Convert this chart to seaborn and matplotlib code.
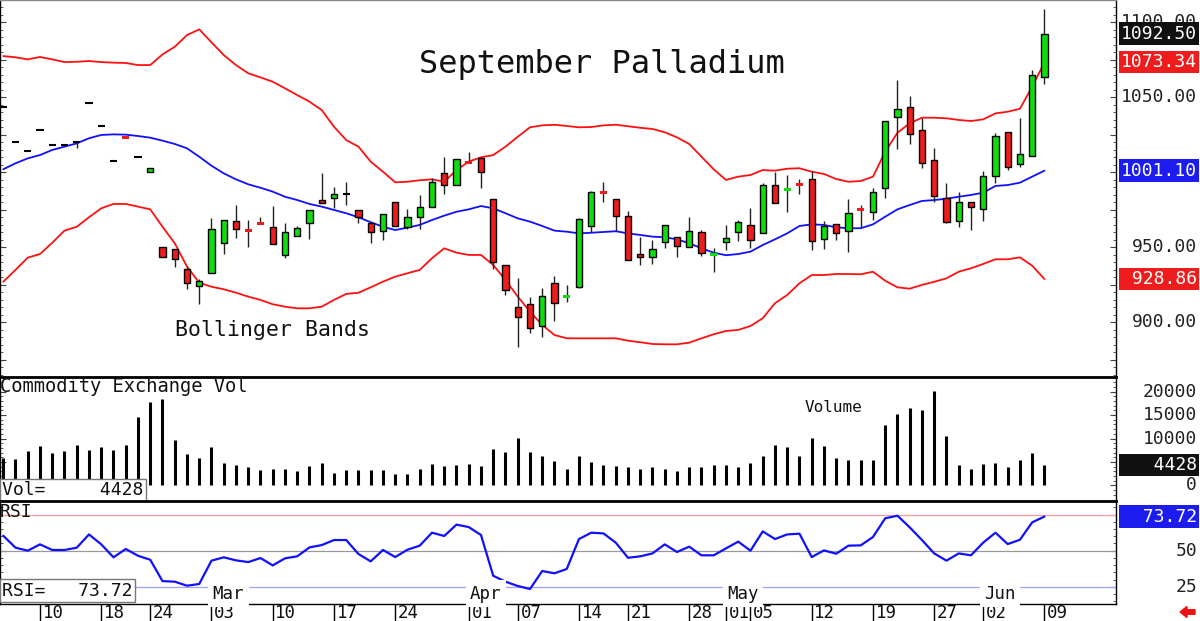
import numpy as np
import pandas as pd
import matplotlib
matplotlib.use('Agg')
import matplotlib.pyplot as plt
import matplotlib.transforms as mtransforms
from matplotlib.patches import FancyArrow
import seaborn as sns

sns.set_style('white')
plt.rcParams['font.family'] = ['DejaVu Sans Mono', 'DejaVu Sans']

# trading days Feb 05 - Jun 09 2025, exchange holidays taken out
dates = pd.bdate_range('2025-02-05', '2025-06-09')
dates = dates[~dates.isin(pd.to_datetime(['2025-02-17', '2025-04-18', '2025-05-26']))]

opens = [1043.5, 1020.0, 1014.4, 1028.2, 1018.2, 1018.2, 1020.4, 1046.0, 1030.9, 1007.5,
         1024.0, 1010.4, 1000.5, 950.0, 948.7, 935.3, 924.4, 932.7, 953.0, 967.7,
         961.4, 965.9, 963.7, 944.9, 957.5, 966.0, 981.5, 982.9, 985.3, 974.9,
         966.4, 960.9, 980.4, 963.8, 970.0, 977.1, 999.3, 991.5, 1007.0, 1009.7,
         982.0, 938.2, 910.0, 912.2, 897.7, 926.4, 916.5, 923.7, 964.4, 987.5,
         982.4, 970.9, 945.5, 943.3, 953.7, 957.0, 950.0, 960.0, 945.2, 953.7,
         960.0, 964.9, 959.3, 991.5, 987.7, 992.2, 995.5, 955.3, 965.3, 960.9,
         975.5, 973.3, 989.7, 1036.7, 1043.3, 1028.2, 1008.2, 983.1, 967.7, 980.0,
         975.3, 997.7, 1027.1, 1005.3, 1010.9, 1063.3]
highs = [1043.5, 1020.0, 1014.4, 1028.2, 1018.2, 1018.2, 1020.4, 1046.0, 1030.9, 1007.5,
         1024.0, 1010.4, 1002.8, 950.0, 948.7, 937.0, 928.7, 969.3, 968.2, 978.2,
         968.2, 970.4, 977.5, 966.4, 964.0, 974.9, 999.3, 990.4, 993.7, 974.9,
         966.4, 972.5, 980.4, 975.4, 984.9, 996.4, 1010.4, 1008.7, 1013.7, 1009.7,
         982.0, 938.2, 929.3, 917.0, 922.7, 930.9, 924.9, 969.5, 987.7, 993.3,
         982.4, 974.2, 957.0, 954.9, 964.9, 957.0, 970.4, 961.5, 949.3, 964.9,
         968.2, 976.0, 993.1, 1000.4, 998.2, 995.5, 1001.1, 967.5, 965.3, 982.0,
         978.2, 989.3, 1034.2, 1061.5, 1051.1, 1036.0, 1016.0, 993.1, 986.7, 980.0,
         1001.1, 1026.0, 1027.1, 1036.0, 1068.5, 1108.7]
lows = [1043.5, 1020.0, 1014.4, 1028.2, 1018.2, 1018.2, 1016.0, 1046.0, 1030.9, 1007.5,
        1022.7, 1010.4, 1000.5, 943.6, 937.0, 922.0, 912.2, 932.7, 945.3, 956.4,
        950.4, 965.3, 952.0, 943.1, 957.5, 955.3, 979.3, 976.0, 978.2, 966.4,
        953.0, 954.8, 964.4, 962.5, 962.0, 976.7, 985.3, 991.5, 1006.3, 989.7,
        935.3, 918.2, 883.7, 893.0, 890.4, 901.0, 913.7, 923.0, 960.0, 980.0,
        961.0, 941.5, 938.2, 938.9, 949.3, 943.7, 950.0, 944.2, 933.7, 948.2,
        954.4, 949.3, 959.3, 979.3, 973.4, 985.5, 948.5, 948.7, 954.8, 947.1,
        963.7, 968.2, 982.7, 1015.3, 1018.9, 1002.7, 980.0, 966.4, 963.7, 961.5,
        967.7, 992.7, 1001.5, 1003.7, 1010.9, 1058.9]
closes = [1043.5, 1020.0, 1014.4, 1028.2, 1018.2, 1018.2, 1020.4, 1046.0, 1030.9, 1007.5,
          1022.7, 1010.4, 1002.8, 943.6, 942.0, 926.0, 927.5, 962.4, 968.2, 962.4,
          960.5, 965.3, 952.0, 960.0, 962.7, 974.9, 979.3, 985.5, 985.3, 970.0,
          960.4, 972.5, 964.4, 970.5, 977.1, 993.4, 991.5, 1008.7, 1006.3, 1000.4,
          940.4, 921.5, 903.3, 896.0, 917.7, 912.7, 917.2, 968.9, 986.7, 986.0,
          970.9, 941.5, 943.3, 948.9, 964.9, 951.0, 960.9, 946.0, 945.6, 956.0,
          967.1, 954.9, 991.5, 979.3, 988.9, 991.8, 954.2, 964.2, 959.7, 972.6,
          974.7, 987.1, 1034.2, 1042.2, 1025.3, 1006.4, 984.4, 967.1, 980.4, 976.7,
          997.7, 1024.4, 1003.7, 1012.0, 1064.9, 1092.5]

upper_band = [1077.5, 1076.7, 1075.3, 1076.9, 1075.3, 1073.5, 1073.7, 1074.2, 1073.5, 1073.1,
              1072.9, 1071.5, 1071.5, 1078.6, 1083.7, 1091.5, 1095.3, 1086.7, 1078.2, 1071.5,
              1066.0, 1063.3, 1060.4, 1056.0, 1051.5, 1047.1, 1041.5, 1030.4, 1021.5, 1017.1,
              1007.1, 1000.4, 993.3, 993.7, 994.7, 995.3, 993.7, 1001.5, 1007.1, 1010.0,
              1011.5, 1017.1, 1023.7, 1030.0, 1031.3, 1031.7, 1030.9, 1030.0, 1030.2, 1031.3,
              1031.7, 1030.7, 1029.7, 1028.9, 1026.7, 1023.3, 1018.9, 1010.4, 1002.0, 994.9,
              997.1, 998.2, 1001.5, 1001.1, 1002.4, 1002.7, 1000.4, 998.9, 995.5, 993.7,
              994.2, 997.1, 1013.7, 1026.4, 1032.7, 1036.4, 1036.4, 1036.0, 1034.9, 1034.2,
              1035.3, 1039.3, 1040.4, 1042.4, 1057.1, 1073.34]
mid_band = [1002.0, 1006.0, 1009.3, 1011.5, 1014.9, 1017.1, 1019.3, 1022.7, 1024.9, 1025.3,
            1025.1, 1024.2, 1023.1, 1021.1, 1018.9, 1016.0, 1010.4, 1004.4, 999.3, 995.3,
            992.0, 989.7, 987.1, 983.7, 981.5, 978.9, 977.1, 974.9, 972.7, 970.0,
            966.7, 963.7, 961.5, 963.1, 964.9, 968.2, 971.1, 973.7, 975.3, 977.5,
            976.0, 972.7, 969.3, 967.1, 964.2, 961.1, 960.4, 959.3, 959.7, 960.2,
            960.7, 959.3, 958.2, 957.1, 956.7, 955.3, 952.7, 949.3, 946.4, 944.7,
            945.5, 947.1, 951.5, 955.3, 959.3, 964.2, 965.3, 964.9, 963.3, 962.7,
            962.7, 965.3, 970.4, 975.3, 978.2, 980.9, 981.5, 982.4, 983.7, 984.9,
            986.4, 990.9, 991.5, 993.1, 997.1, 1001.10]
lower_band = [927.0, 934.9, 943.1, 945.5, 953.0, 961.1, 963.7, 970.0, 976.0, 978.9,
              978.9, 977.1, 975.3, 963.7, 952.7, 937.1, 926.4, 923.7, 922.0, 919.7,
              917.1, 914.9, 912.0, 910.4, 909.3, 909.3, 910.4, 914.9, 918.9, 919.7,
              923.3, 927.1, 930.4, 932.7, 934.9, 942.7, 949.3, 946.4, 944.9, 944.9,
              938.2, 928.2, 917.1, 907.1, 898.2, 891.5, 889.3, 889.3, 889.3, 889.3,
              889.3, 887.7, 886.7, 885.5, 885.3, 885.3, 886.4, 889.3, 892.0, 894.2,
              894.9, 897.5, 902.7, 912.7, 918.2, 926.0, 931.5, 931.5, 932.2, 932.2,
              932.0, 933.7, 927.7, 923.3, 922.4, 924.9, 927.0, 929.3, 933.7, 936.0,
              938.9, 942.0, 942.0, 943.3, 937.7, 928.86]

volume = [5885, 5743, 7445, 8366, 6948, 7303, 8721, 7657, 8154, 7657,
          8579, 14605, 17725, 18505, 9642, 6806, 5814, 8224, 4750, 4325,
          3900, 3403, 3545, 3545, 3049, 4112, 4750, 2623, 3332, 3332,
          3332, 3332, 2552, 2340, 3474, 4609, 4112, 4467, 4609, 4112,
          7870, 7161, 10139, 7161, 6310, 5176, 3616, 6310, 5034, 4467,
          4112, 3900, 3616, 4041, 3474, 3190, 4041, 3900, 4325, 4467,
          3900, 4750, 6310, 8721, 8224, 6310, 10139, 8366, 5956, 5530,
          5530, 5388, 12975, 15314, 16520, 16023, 20207, 10493, 4396, 3616,
          4609, 4892, 3900, 5530, 7019, 4428]

rsi = [60.4, 52.1, 50.0, 54.4, 50.5, 50.5, 52.1, 61.3, 54.4, 45.4,
       51.2, 46.5, 43.7, 28.9, 28.5, 25.7, 26.9, 43.1, 45.4, 43.3,
       42.1, 44.9, 39.8, 44.7, 46.1, 52.3, 53.9, 57.4, 57.4, 47.7,
       42.6, 50.5, 45.6, 50.7, 53.5, 62.5, 60.2, 68.1, 66.4, 60.9,
       32.6, 28.5, 25.5, 23.4, 35.9, 34.3, 37.3, 58.1, 62.5, 62.0,
       55.6, 45.1, 46.1, 48.1, 54.4, 49.1, 52.8, 46.8, 46.8, 51.6,
       56.3, 50.0, 63.4, 58.1, 61.3, 61.8, 45.6, 50.2, 47.9, 53.5,
       53.7, 59.5, 72.5, 74.3, 66.2, 57.4, 48.1, 43.1, 48.1, 46.8,
       55.6, 62.5, 54.6, 57.6, 69.7, 73.72]

# right scale labels shown in the picture (the others sit under the value boxes)
price_labels = [900, 950, 1050, 1100]
volume_labels = [0, 10000, 15000, 20000]
rsi_labels = [25, 50]

tick_dates = ['2025-02-10', '2025-02-18', '2025-02-24', '2025-03-03', '2025-03-10',
              '2025-03-17', '2025-03-24', '2025-04-01', '2025-04-07', '2025-04-14',
              '2025-04-21', '2025-04-28', '2025-05-01', '2025-05-05', '2025-05-12',
              '2025-05-19', '2025-05-27', '2025-06-02', '2025-06-09']
month_starts = ['2025-03-03', '2025-04-01', '2025-05-01', '2025-06-02']
month_names = ['Mar', 'Apr', 'May', 'Jun']

idx = np.arange(len(dates))
o = np.array(opens); h = np.array(highs); l = np.array(lows); c = np.array(closes)

GREEN = '#10dd10'
RED = '#ee1c1c'

fig = plt.figure(figsize=(12, 6.21), dpi=100)
W, H = 1200, 621
axw = 1116 / W
ax_p = fig.add_axes([0, 1 - 377 / H, axw, 377 / H])
ax_v = fig.add_axes([0, 1 - 501 / H, axw, 124 / H])
ax_r = fig.add_axes([0, 1 - 604 / H, axw, 103 / H])

xlim = (-0.265, 90.84)
for ax in (ax_p, ax_v, ax_r):
    ax.set_xlim(*xlim)
    ax.set_facecolor('white')
    for s in ax.spines.values():
        s.set_color('black')
        s.set_linewidth(1)
    ax.tick_params(axis='x', which='both', bottom=False, labelbottom=False)
    ax.tick_params(axis='y', which='both', left=True, right=True, direction='in',
                   labelleft=False, labelright=False, color='#444444')
    ax.tick_params(axis='y', which='major', length=4)
    ax.tick_params(axis='y', which='minor', length=2)
ax_p.spines['top'].set_color('#888888')
ax_v.spines['top'].set_linewidth(2)
ax_r.spines['top'].set_linewidth(2)

# ---- price panel
sns.lineplot(x=idx, y=upper_band, ax=ax_p, color='#ff1010', lw=1.3, estimator=None, sort=False, zorder=2)
sns.lineplot(x=idx, y=lower_band, ax=ax_p, color='#ff1010', lw=1.3, estimator=None, sort=False, zorder=2)
sns.lineplot(x=idx, y=mid_band, ax=ax_p, color='#1010ff', lw=1.3, estimator=None, sort=False, zorder=2)

ax_p.vlines(idx, l, h, color='#222222', lw=1.0, zorder=3)
lo = np.minimum(o, c)
hi = np.maximum(o, c)
flat = c == o
thin = (hi - lo < 2) & ~flat
full = ~thin & ~flat
cols = np.where(c > o, GREEN, RED)
ax_p.bar(idx[full], (hi - lo)[full], bottom=lo[full], width=0.52, color=cols[full],
         edgecolor='black', linewidth=1.0, zorder=4)
ax_p.bar(idx[thin], np.full(thin.sum(), 2.0), bottom=((lo + hi) / 2 - 1.0)[thin], width=0.55,
         color=cols[thin], linewidth=0, zorder=4)
ax_p.hlines(c[flat], idx[flat] - 0.3, idx[flat] + 0.3, color='black', lw=1.5, zorder=4)

ax_p.set_ylim(863.5, 1114.9)
ax_p.yaxis.set_major_locator(plt.MultipleLocator(25))
ax_p.yaxis.set_minor_locator(plt.MultipleLocator(5))
ax_p.set_xlabel(''); ax_p.set_ylabel('')

ax_p.text(0.539, 0.83, 'September Palladium', transform=ax_p.transAxes, ha='center',
          va='center', fontsize=23, color='#111111')
ax_p.text(0.157, 0.125, 'Bollinger Bands', transform=ax_p.transAxes, ha='left',
          va='center', fontsize=15.5, color='#111111')

# ---- volume panel
ax_v.vlines(idx, 0, volume, color='black', lw=2.2, zorder=2)
ax_v.set_ylim(-3300, 23090)
ax_v.yaxis.set_major_locator(plt.MultipleLocator(5000))
ax_v.yaxis.set_minor_locator(plt.MultipleLocator(1000))
ax_v.text(0.0, 0.92, 'Commodity Exchange Vol', transform=ax_v.transAxes, ha='left',
          va='center', fontsize=13.5, color='#111111')
ax_v.text(0.721, 0.75, 'Volume', transform=ax_v.transAxes, ha='left', va='center',
          fontsize=11.5, color='#111111')
ax_v.text(0.002, 0.09, 'Vol=' + f'{volume[-1]:>9d}', transform=ax_v.transAxes, ha='left',
          va='center', fontsize=13, color='#111111', zorder=10,
          bbox=dict(boxstyle='square,pad=0.12', fc='white', ec='#777777', lw=1))

# ---- RSI panel
ax_r.axhline(75, color='#ff9c9c', lw=0.9, zorder=1)
ax_r.axhline(50, color='#999999', lw=0.9, zorder=1)
ax_r.axhline(25, color='#a0a0ff', lw=0.9, zorder=1)
sns.lineplot(x=idx, y=rsi, ax=ax_r, color='#1010ff', lw=1.6, estimator=None, sort=False, zorder=3)
ax_r.set_ylim(13.0, 84.5)
ax_r.yaxis.set_major_locator(plt.MultipleLocator(25))
ax_r.yaxis.set_minor_locator(plt.MultipleLocator(5))
ax_r.set_xlabel(''); ax_r.set_ylabel('')
ax_r.text(0.0, 0.89, 'RSI', transform=ax_r.transAxes, ha='left', va='center',
          fontsize=13, color='#111111')
ax_r.text(0.002, 0.13, 'RSI=' + f'{rsi[-1]:8.2f}', transform=ax_r.transAxes, ha='left',
          va='center', fontsize=13, color='#111111', zorder=10,
          bbox=dict(boxstyle='square,pad=0.12', fc='white', ec='#777777', lw=1))

bt = mtransforms.blended_transform_factory(ax_r.transData, ax_r.transAxes)
for d, name in zip(month_starts, month_names):
    p = dates.get_loc(pd.Timestamp(d))
    ax_r.text(p + 0.1, 0.1, name, transform=bt, ha='left', va='center', fontsize=12.5,
              color='#111111', zorder=5,
              bbox=dict(boxstyle='square,pad=0.25', fc='white', ec='none'))

tpos = [dates.get_loc(pd.Timestamp(d)) for d in tick_dates]
ax_r.set_xticks(tpos)
ax_r.tick_params(axis='x', which='major', bottom=True, direction='out', length=12.5,
                 width=1, color='black', labelbottom=False)
for p, d in zip(tpos, tick_dates):
    ax_r.text(p + 0.22, -0.085, pd.Timestamp(d).strftime('%d'), transform=bt, ha='left',
              va='center', fontsize=12.5, color='#111111', clip_on=False)

# ---- right-hand scale labels and value boxes
def right_labels(ax, values, fmt):
    tr = mtransforms.blended_transform_factory(fig.transFigure, ax.transData)
    for v in values:
        ax.text(1197 / W, v, fmt(v), transform=tr, ha='right', va='center', fontsize=13,
                color='#222222', clip_on=False, zorder=6)

def value_box(ax, v, txt, fc):
    tr = mtransforms.blended_transform_factory(fig.transFigure, ax.transData)
    ax.text(1197 / W, v, txt, transform=tr, ha='right', va='center', fontsize=13,
            color='white', clip_on=False, zorder=12,
            bbox=dict(boxstyle='square,pad=0.12', fc=fc, ec='none'))

right_labels(ax_p, price_labels, lambda v: f'{v:.2f}')
right_labels(ax_v, volume_labels, lambda v: f'{v:d}')
right_labels(ax_r, rsi_labels, lambda v: f'{v:d}')

value_box(ax_p, closes[-1], f'{closes[-1]:7.2f}', '#111111')
value_box(ax_p, upper_band[-1], f'{upper_band[-1]:7.2f}', '#ee1c1c')
value_box(ax_p, mid_band[-1], f'{mid_band[-1]:7.2f}', '#1c1cee')
value_box(ax_p, lower_band[-1], f'{lower_band[-1]:7.2f}', '#ee1c1c')
value_box(ax_v, volume[-1], f'{volume[-1]:>7d}', '#111111')
value_box(ax_r, rsi[-1], f'{rsi[-1]:7.2f}', '#1c1cee')

fig.add_artist(FancyArrow(11.95, 0.09, -0.15, 0, width=0.045, head_width=0.11,
                          head_length=0.07, length_includes_head=True,
                          transform=fig.dpi_scale_trans, color='#ee1111'))

fig.savefig('out.png', dpi=100, facecolor='white')
